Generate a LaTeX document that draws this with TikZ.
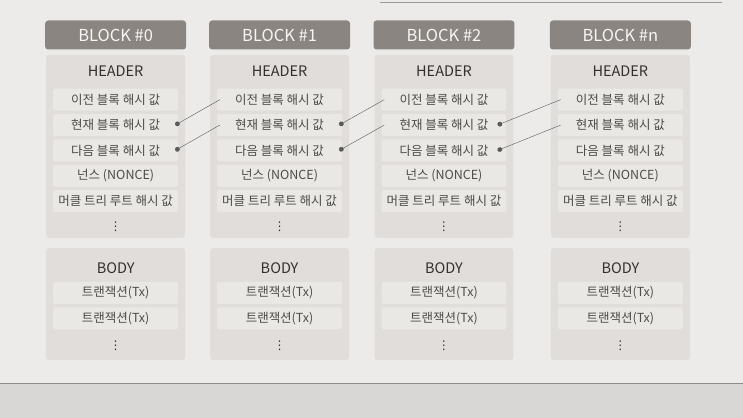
\documentclass[tikz,border=0pt]{standalone}
\usepackage{fontspec}
\setmainfont{Noto Sans CJK KR}
\newfontfamily\symfont{DejaVu Sans}
\usetikzlibrary{arrows,positioning}
\definecolor{pagebg}{HTML}{ECEBE9}
\definecolor{lowbg}{HTML}{D9D7D5}
\definecolor{titlegray}{HTML}{8A8580}
\definecolor{panelgray}{HTML}{E0DDDA}
\definecolor{rowgray}{HTML}{EAE8E5}
\definecolor{inkgray}{HTML}{33312F}
\definecolor{rowink}{HTML}{4E4B49}
\tikzset{
	%Define standard arrow tip
	>=stealth',
	%Define style for block titles
	kopf/.style={
		rectangle,
		rounded corners=3pt,
		fill=titlegray,
		text=white!92!titlegray,
		minimum width=141pt,
		minimum height=29pt,
		font=\fontsize{16.5}{16.5}\selectfont},
	%Define style for gray panels
	feld/.style={
		rectangle,
		rounded corners=3pt,
		fill=panelgray,
		minimum width=139pt},
	%Define style for rows
	zeile/.style={
		rectangle,
		rounded corners=2pt,
		fill=rowgray,
		text=rowink,
		minimum width=125pt,
		minimum height=22pt,
		inner sep=0pt,
		font=\fontsize{12.5}{13}\selectfont},
	%Define style for HEADER / BODY
	titel/.style={
		text=inkgray,
		inner sep=0pt,
		font=\fontsize{14.5}{15}\selectfont},
	punkte/.style={
		text=inkgray,
		inner sep=0pt,
		font=\symfont\fontsize{12}{12}\selectfont},
	% Define link style
	pil/.style={
		*-,
		draw=black!65,
		thin}
}
\begin{document}
\begin{tikzpicture}[x=1pt,y=-1pt]
	
	% page
	\fill[pagebg] (0,0) rectangle (743,418);
	\fill[lowbg] (0,383) rectangle (743,418);
	\draw[black!45] (0,383) -- (743,383);
	\draw[black!40] (380,2) -- (722,2);
	\useasboundingbox (0,0) rectangle (743,418);
	
	% BLOCK #0
	\node[kopf] (blk0) at (115.5,35) {BLOCK \#0};
	\node[feld, minimum height=183pt, below=5pt of blk0] (head0) {};
	\node[titel] (htxt0) at ([yshift=-17pt]head0.north) {HEADER};
	\node[zeile] (prev0) at ([yshift=-45pt]head0.north) {이전 블록 해시 값};
	\node[zeile, below=3pt of prev0] (cur0) {현재 블록 해시 값};
	\node[zeile, below=3pt of cur0] (next0) {다음 블록 해시 값};
	\node[zeile, below=3pt of next0] (nonce0) {넌스 (NONCE)};
	\node[zeile, below=3pt of nonce0] (merkle0) {머클 트리 루트 해시 값};
	\node[punkte] (hdots0) at ([yshift=-26pt]merkle0.center) {⋮};
	\node[feld, minimum height=112pt, below=10pt of head0] (body0) {};
	\node[titel] (btxt0) at ([yshift=-20pt]body0.north) {BODY};
	\node[zeile] (txa0) at ([yshift=-45pt]body0.north) {트랜잭션(Tx)};
	\node[zeile, below=3pt of txa0] (txb0) {트랜잭션(Tx)};
	\node[punkte] (bdots0) at ([yshift=-27pt]txb0.center) {⋮};
	
	% BLOCK #1
	\node[kopf] (blk1) at (279.5,35) {BLOCK \#1};
	\node[feld, minimum height=183pt, below=5pt of blk1] (head1) {};
	\node[titel] (htxt1) at ([yshift=-17pt]head1.north) {HEADER};
	\node[zeile] (prev1) at ([yshift=-45pt]head1.north) {이전 블록 해시 값};
	\node[zeile, below=3pt of prev1] (cur1) {현재 블록 해시 값};
	\node[zeile, below=3pt of cur1] (next1) {다음 블록 해시 값};
	\node[zeile, below=3pt of next1] (nonce1) {넌스 (NONCE)};
	\node[zeile, below=3pt of nonce1] (merkle1) {머클 트리 루트 해시 값};
	\node[punkte] (hdots1) at ([yshift=-26pt]merkle1.center) {⋮};
	\node[feld, minimum height=112pt, below=10pt of head1] (body1) {};
	\node[titel] (btxt1) at ([yshift=-20pt]body1.north) {BODY};
	\node[zeile] (txa1) at ([yshift=-45pt]body1.north) {트랜잭션(Tx)};
	\node[zeile, below=3pt of txa1] (txb1) {트랜잭션(Tx)};
	\node[punkte] (bdots1) at ([yshift=-27pt]txb1.center) {⋮};
	
	% BLOCK #2
	\node[kopf] (blk2) at (444,35) {BLOCK \#2};
	\node[feld, minimum height=183pt, below=5pt of blk2] (head2) {};
	\node[titel] (htxt2) at ([yshift=-17pt]head2.north) {HEADER};
	\node[zeile] (prev2) at ([yshift=-45pt]head2.north) {이전 블록 해시 값};
	\node[zeile, below=3pt of prev2] (cur2) {현재 블록 해시 값};
	\node[zeile, below=3pt of cur2] (next2) {다음 블록 해시 값};
	\node[zeile, below=3pt of next2] (nonce2) {넌스 (NONCE)};
	\node[zeile, below=3pt of nonce2] (merkle2) {머클 트리 루트 해시 값};
	\node[punkte] (hdots2) at ([yshift=-26pt]merkle2.center) {⋮};
	\node[feld, minimum height=112pt, below=10pt of head2] (body2) {};
	\node[titel] (btxt2) at ([yshift=-20pt]body2.north) {BODY};
	\node[zeile] (txa2) at ([yshift=-45pt]body2.north) {트랜잭션(Tx)};
	\node[zeile, below=3pt of txa2] (txb2) {트랜잭션(Tx)};
	\node[punkte] (bdots2) at ([yshift=-27pt]txb2.center) {⋮};
	
	% BLOCK #n
	\node[kopf] (blkn) at (620.5,35) {BLOCK \#n};
	\node[feld, minimum height=183pt, below=5pt of blkn] (headn) {};
	\node[titel] (htxtn) at ([yshift=-17pt]headn.north) {HEADER};
	\node[zeile] (prevn) at ([yshift=-45pt]headn.north) {이전 블록 해시 값};
	\node[zeile, below=3pt of prevn] (curn) {현재 블록 해시 값};
	\node[zeile, below=3pt of curn] (nextn) {다음 블록 해시 값};
	\node[zeile, below=3pt of nextn] (noncen) {넌스 (NONCE)};
	\node[zeile, below=3pt of noncen] (merklen) {머클 트리 루트 해시 값};
	\node[punkte] (hdotsn) at ([yshift=-26pt]merklen.center) {⋮};
	\node[feld, minimum height=112pt, below=10pt of headn] (bodyn) {};
	\node[titel] (btxtn) at ([yshift=-20pt]bodyn.north) {BODY};
	\node[zeile] (txan) at ([yshift=-45pt]bodyn.north) {트랜잭션(Tx)};
	\node[zeile, below=3pt of txan] (txbn) {트랜잭션(Tx)};
	\node[punkte] (bdotsn) at ([yshift=-27pt]txbn.center) {⋮};
	
	% hash links
	\draw[pil] ([xshift=-3pt]cur0.east) -- ([xshift=3pt]prev1.west);
	\draw[pil] ([xshift=-3pt]next0.east) -- ([xshift=3pt]cur1.west);
	\draw[pil] ([xshift=-3pt]cur1.east) -- ([xshift=3pt]prev2.west);
	\draw[pil] ([xshift=-3pt]next1.east) -- ([xshift=3pt]cur2.west);
	\draw[pil] ([xshift=-9pt]cur2.east) -- ([xshift=3pt]prevn.west);
	\draw[pil] ([xshift=-9pt]next2.east) -- ([xshift=3pt]curn.west);
	
\end{tikzpicture}
\end{document}
